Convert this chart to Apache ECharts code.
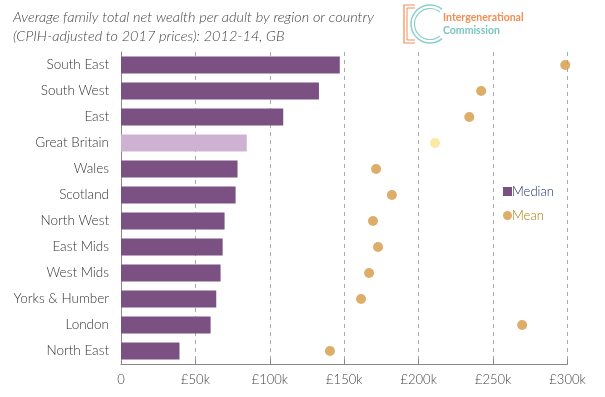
<!DOCTYPE html>
<html>
<head>
<meta charset="utf-8">
<script src="https://cdn.jsdelivr.net/npm/echarts@6/dist/echarts.min.js"></script>
<style>
  html, body { margin: 0; padding: 0; background: #fff; }
  #main { width: 605px; height: 397px; }
</style>
</head>
<body>
<div id="main"></div>
<script>
// regions, top to bottom as drawn
const regions = ['South East', 'South West', 'East', 'Great Britain', 'Wales', 'Scotland',
  'North West', 'East Mids', 'West Mids', 'Yorks & Humber', 'London', 'North East'];
// £ thousands
const medianValues = [147, 133, 109, 84.5, 78.3, 77, 69.6, 68.3, 66.9, 64, 60.2, 39.3];
const meanValues = [298.5, 242, 234, 211, 171.4, 182, 169.3, 172.7, 166.7, 161.3, 269.5, 140.4];
const xTicks = [0, 50, 100, 150, 200, 250, 300];

const highlight = 'Great Britain';
const font = 'Lato';

const chartDom = document.getElementById('main');
const myChart = echarts.init(chartDom);

// category axis is inverted so first region sits at the top
const barData = medianValues.map((v, i) => ({
    value: v,
    itemStyle: { color: regions[i] === highlight ? '#cdb3d1' : '#7a5182' }
}));
const dotData = meanValues.map((v, i) => ({
    value: v,
    itemStyle: { color: regions[i] === highlight ? '#fde38c' : '#d59a45' }
}));

const option = {
    animation: false,
    textStyle: { fontFamily: font },
    title: {
        text: 'Average family total net wealth per adult by region or country\n(CPIH-adjusted to 2017 prices): 2012-14, GB',
        left: 8,
        top: 3,
        textStyle: {
            fontFamily: font,
            fontStyle: 'italic',
            fontWeight: 300,
            fontSize: 14.5,
            lineHeight: 19,
            color: '#444'
        }
    },
    legend: {
        orient: 'vertical',
        left: 498,
        top: 180,
        itemGap: 11,
        itemWidth: 9,
        itemHeight: 9,
        data: [
            { name: 'Median', icon: 'rect', textStyle: { color: '#1f2d6b' } },
            { name: 'Mean', icon: 'circle', itemStyle: { color: '#d59a45' }, textStyle: { color: '#a77a00' } }
        ],
        textStyle: { fontFamily: font, fontSize: 13, fontWeight: 300, padding: [0, 0, 0, -5] }
    },
    grid: { left: 121, right: 37.5, top: 52, bottom: 33, containLabel: false },
    xAxis: {
        type: 'value',
        min: xTicks[0],
        max: xTicks[xTicks.length - 1],
        interval: 50,
        axisLine: { show: true, lineStyle: { color: '#888' } },
        axisTick: { show: true, inside: true, length: 5, lineStyle: { color: '#888' } },
        axisLabel: {
            color: '#444',
            fontSize: 13,
            fontWeight: 300,
            margin: 9,
            formatter: v => v === 0 ? '0' : '£' + v + 'k'
        },
        splitLine: { show: true, lineStyle: { color: '#aaa', type: [4, 4], width: 1 } }
    },
    yAxis: {
        type: 'category',
        data: regions,
        inverse: true,
        axisLine: { show: true, lineStyle: { color: '#888' } },
        axisTick: { show: false },
        axisLabel: { color: '#333', fontSize: 13.5, fontWeight: 300, margin: 12 }
    },
    series: [
        {
            name: 'Median',
            type: 'bar',
            data: barData,
            barWidth: 17,
            itemStyle: { color: '#7a5182' }
        },
        {
            name: 'Mean',
            type: 'scatter',
            data: dotData,
            symbolSize: 10,
            itemStyle: { color: '#d59a45' }
        }
    ],
    graphic: [
        // logo: orange bracket (double stroke)
        {
            type: 'polyline',
            shape: { points: [[415, 5], [404, 5], [404, 43], [415, 43]] },
            style: { stroke: '#f28d52', lineWidth: 1.2, fill: null }
        },
        {
            type: 'polyline',
            shape: { points: [[415, 8], [407, 8], [407, 40], [415, 40]] },
            style: { stroke: '#f28d52', lineWidth: 1, fill: null }
        },
        // logo: teal C
        {
            type: 'arc',
            shape: { cx: 430, cy: 24, r: 19, startAngle: -Math.PI * 0.28, endAngle: Math.PI * 0.28, clockwise: false },
            style: { stroke: '#8ecfcb', lineWidth: 1.5, fill: null }
        },
        {
            type: 'arc',
            shape: { cx: 430, cy: 24, r: 15.5, startAngle: -Math.PI * 0.28, endAngle: Math.PI * 0.28, clockwise: false },
            style: { stroke: '#8ecfcb', lineWidth: 1.2, fill: null }
        },
        {
            type: 'text',
            left: 443, top: 12,
            style: { text: 'Intergenerational', fill: '#f28d52', font: 'bold 10.5px Lato' }
        },
        {
            type: 'text',
            left: 443, top: 25,
            style: { text: 'Commission', fill: '#7ac6c2', font: 'bold 10.5px Lato' }
        }
    ]
};

myChart.setOption(option);
</script>
</body>
</html>
